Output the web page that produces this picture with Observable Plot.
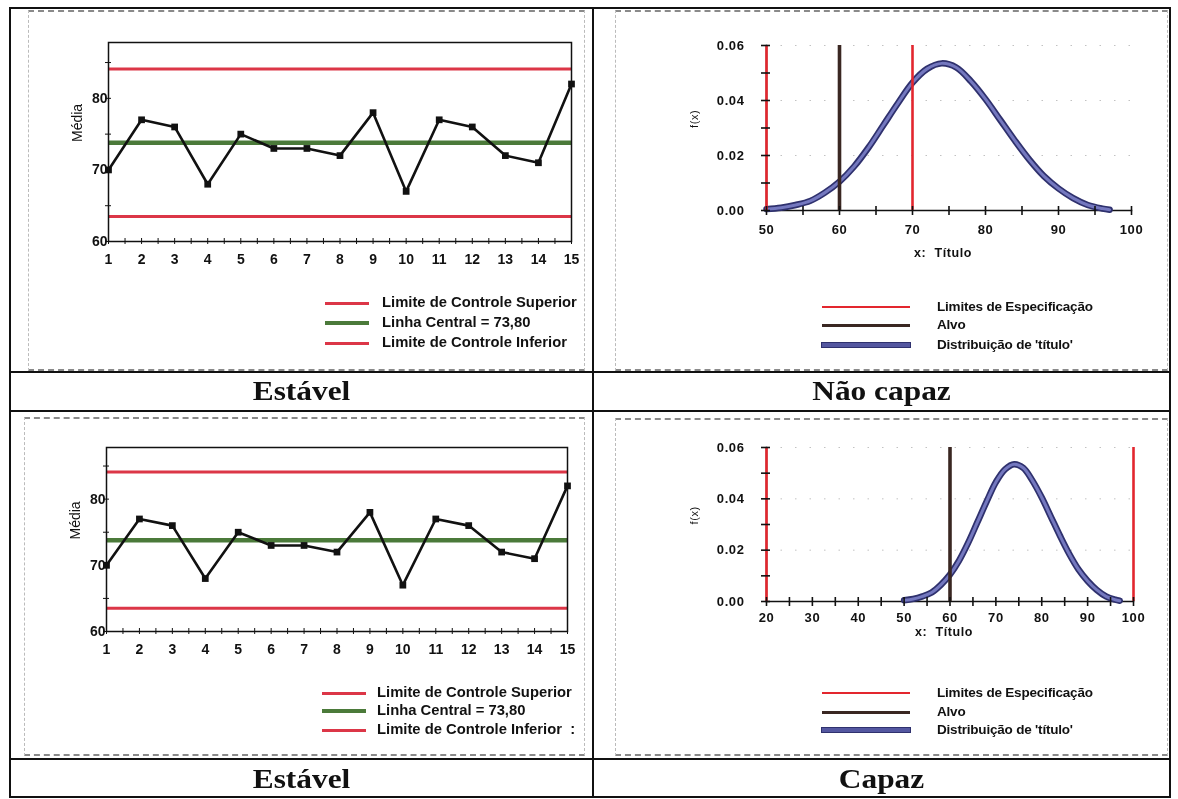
<!DOCTYPE html>
<html>
<head>
<meta charset="utf-8">
<script src="https://cdn.jsdelivr.net/npm/d3@7"></script>
<script src="https://cdn.jsdelivr.net/npm/@observablehq/plot@0.6"></script>
<style>
  html, body { margin: 0; padding: 0; background: #fff; }
  #page { position: relative; width: 1178px; height: 799px; overflow: hidden; background: #fff;
          font-family: "Liberation Sans", Arial, sans-serif; color: #111; filter: blur(0.35px); }
  .rule { position: absolute; background: #111; }
  .inner { position: absolute; box-sizing: border-box; border-left: 1px dashed #bbb; border-right: 1px dashed #bbb;
           border-top: 2px dashed #8a8a8a; border-bottom: 2px dashed #8a8a8a; }
  .caption { position: absolute; font-family: "Liberation Serif", "Times New Roman", serif; font-weight: bold;
             font-size: 28px; line-height: 30px; text-align: center; transform: scaleX(1.12); color: #111; }
  .legend { position: absolute; }
  .legend .sw { position: absolute; }
  .legend .txt { position: absolute; font-weight: bold; white-space: pre; }
</style>
</head>
<body>
<div id="page"></div>
<script>
// ---- Control chart (X-bar) data ----
const samples = [1, 2, 3, 4, 5, 6, 7, 8, 9, 10, 11, 12, 13, 14, 15];
const means = [70, 77, 76, 68, 75, 73, 73, 72, 78, 67, 77, 76, 72, 71, 82];
const centerLine = 73.8;
const upperLimit = 84.1;
const lowerLimit = 63.5;
const meanDomain = [60, 87.8];
const meanTicks = [60, 70, 80];
const meanMinorTicks = [65, 75, 85];

// ---- Capability: fitted distribution of "título" ----
const densityX = [50, 52, 54, 56, 58, 60, 62, 64, 66, 68, 70, 72, 74, 76, 78, 80, 82, 84, 86, 88, 90, 92, 94, 96, 97];
const densityY = [0.0005, 0.001, 0.002, 0.0035, 0.0065, 0.0105, 0.016, 0.023, 0.031, 0.039, 0.0465, 0.0515, 0.0535, 0.052,
                  0.047, 0.0405, 0.033, 0.0255, 0.0185, 0.0125, 0.008, 0.0045, 0.002, 0.0007, 0.0003];
const densityDomain = [0, 0.06];
const densityTicks = [0, 0.02, 0.04, 0.06];
const densityMinorTicks = [0.01, 0.03, 0.05];
const target = 60;
const specNarrow = [50, 70];
const specWide = [20, 100];
const xTicksNarrow = [50, 60, 70, 80, 90, 100];
const xTicksWide = [20, 30, 40, 50, 60, 70, 80, 90, 100];

// ---- Captions ----
const captions = ["Estável", "Não capaz", "Estável", "Capaz"];

const colors = {
  limit: "#dc3647", center: "#4b7a3a", series: "#111",
  spec: "#e3262e", target: "#3a2722", curveDark: "#2f316e", curveLight: "#7478bf"
};

const page = document.getElementById("page");
function el(cls, css, html) {
  const d = document.createElement("div");
  d.className = cls;
  Object.assign(d.style, css);
  if (html != null) d.textContent = html;
  page.appendChild(d);
  return d;
}
const px = v => v + "px";

// ---- Table grid ----
[[10, 7, 1161, 2], [10, 796, 1161, 2], [10, 371, 1161, 2], [10, 410, 1161, 2], [10, 758, 1161, 2]]
  .forEach(([l, t, w, h]) => el("rule", {left: px(l), top: px(t), width: px(w), height: px(h)}));
[[9, 7, 2, 791], [592, 7, 2, 791], [1169, 7, 2, 791]]
  .forEach(([l, t, w, h]) => el("rule", {left: px(l), top: px(t), width: px(w), height: px(h)}));

// chart-object frames inside each cell
[[28, 10, 557, 361], [24, 417, 561, 339], [615, 10, 553, 361], [615, 418, 553, 338]]
  .forEach(([l, t, w, h]) => el("inner", {left: px(l), top: px(t), width: px(w), height: px(h)}));

// captions
[[10, 376, 583, captions[0]], [594, 376, 575, captions[1]], [10, 764, 583, captions[2]], [594, 764, 575, captions[3]]]
  .forEach(([l, t, w, txt]) => el("caption", {left: px(l), top: px(t), width: px(w)}, txt));

// ---- Control chart ----
function controlChart(box) {
  const pts = samples.map((s, i) => ({sample: s, mean: means[i]}));
  const halfSteps = samples.slice(0, -1).map(s => s + 0.5);
  const svg = Plot.plot({
    width: box.width, height: box.height,
    marginLeft: box.ml, marginRight: box.mr, marginTop: box.mt, marginBottom: box.mb,
    style: {fontFamily: "Liberation Sans, Arial, sans-serif", color: "#111", background: "transparent", overflow: "visible"},
    x: {domain: [samples[0], samples[samples.length - 1]]},
    y: {domain: meanDomain},
    marks: [
      Plot.ruleY([upperLimit, lowerLimit], {stroke: colors.limit, strokeWidth: 3}),
      Plot.ruleY([centerLine], {stroke: colors.center, strokeWidth: 4.5}),
      Plot.line(pts, {x: "sample", y: "mean", stroke: colors.series, strokeWidth: 2.6}),
      Plot.dot(pts, {x: "sample", y: "mean", symbol: "square", r: 3.8, fill: colors.series, stroke: "none"}),
      Plot.frame({stroke: "#111", strokeWidth: 1.5}),
      Plot.axisY([...meanTicks, ...meanMinorTicks], {tickSize: 6, dx: 3, tickFormat: () => "", label: null}),
      Plot.axisY(meanTicks, {tickSize: 0, tickPadding: 1, fontSize: 14, fontWeight: "bold", label: null}),
      Plot.axisX([...samples, ...halfSteps], {tickSize: 6, dy: -3, tickFormat: () => "", label: null}),
      Plot.axisX(samples, {tickSize: 0, tickPadding: 13, fontSize: 14, fontWeight: "bold", label: null}),
      Plot.text(["Média"], {frameAnchor: "left", dx: -31, rotate: -90, fontSize: 14})
    ]
  });
  Object.assign(svg.style, {position: "absolute", left: px(box.left), top: px(box.top)});
  page.appendChild(svg);
}

// ---- Capability chart ----
function capabilityChart(box, specLimits, xDomain, xTicks) {
  const curve = densityX.map((x, i) => ({x, y: densityY[i]}));
  const xMinor = xTicks.slice(0, -1).map(t => t + 5);
  const svg = Plot.plot({
    width: box.width, height: box.height,
    marginLeft: box.ml, marginRight: box.mr, marginTop: box.mt, marginBottom: box.mb,
    style: {fontFamily: "Liberation Sans, Arial, sans-serif", color: "#111", background: "transparent",
            overflow: "visible", letterSpacing: "0.6px"},
    x: {domain: xDomain},
    y: {domain: densityDomain},
    marks: [
      Plot.gridY(densityTicks.slice(1), {stroke: "#777", strokeOpacity: 0.45, strokeDasharray: "1.5,13"}),
      Plot.frame({anchor: "left", stroke: "#111", strokeWidth: 1.5}),
      Plot.frame({anchor: "bottom", stroke: "#111", strokeWidth: 1.5}),
      Plot.line(curve, {x: "x", y: "y", curve: "catmull-rom", stroke: colors.curveDark, strokeWidth: 6.5}),
      Plot.line(curve, {x: "x", y: "y", curve: "catmull-rom", stroke: colors.curveLight, strokeWidth: 3}),
      Plot.ruleX(specLimits, {stroke: colors.spec, strokeWidth: 2.6}),
      Plot.ruleX([target], {stroke: colors.target, strokeWidth: 3.6}),
      Plot.axisY([...densityTicks, ...densityMinorTicks], {tickSize: 9, dx: 4, strokeWidth: 1.6, tickFormat: () => "", label: null}),
      Plot.axisY(densityTicks, {tickSize: 0, tickPadding: 22, fontSize: 13, fontWeight: "bold", tickFormat: d3.format(".2f"), label: null}),
      Plot.axisX([...xTicks, ...xMinor], {tickSize: 9, dy: -4, strokeWidth: 1.6, tickFormat: () => "", label: null}),
      Plot.axisX(xTicks, {tickSize: 0, tickPadding: box.tickPad, fontSize: 13, fontWeight: "bold", label: null}),
      Plot.text(["f(x)"], {frameAnchor: "left", dx: -72, rotate: -90, fontSize: 11}),
      Plot.text(["x:  Título"], {frameAnchor: "bottom", dy: box.titleDy, dx: -6, fontSize: 12.5, fontWeight: "bold"})
    ]
  });
  Object.assign(svg.style, {position: "absolute", left: px(box.left), top: px(box.top)});
  page.appendChild(svg);
}

// ---- Legends ----
function legend(box, rows) {
  const lg = el("legend", {left: px(box.left), top: px(box.top), width: px(box.width), height: px(box.height)});
  rows.forEach((r, i) => {
    const cy = box.rowY[i] - box.top;
    const sw = document.createElement("div");
    sw.className = "sw";
    Object.assign(sw.style, {left: px(box.swLeft - box.left), width: px(box.swWidth),
      top: px(cy - r.w / 2), height: px(r.w), background: r.color,
      boxShadow: r.edge ? `0 0 0 1px ${r.edge}` : "none"});
    lg.appendChild(sw);
    const tx = document.createElement("div");
    tx.className = "txt";
    tx.textContent = r.label;
    Object.assign(tx.style, {left: px(box.textLeft - box.left), top: px(cy - box.font * 0.62),
      fontSize: px(box.font), lineHeight: px(box.font * 1.2), letterSpacing: px(box.spacing || 0)});
    lg.appendChild(tx);
  });
}

const centerLabel = "Linha Central = " + centerLine.toFixed(2).replace(".", ",");

controlChart({left: 30, top: 15, width: 555, height: 275, ml: 78, mr: 14, mt: 27, mb: 49});
controlChart({left: 30, top: 420, width: 555, height: 260, ml: 76, mr: 18, mt: 27, mb: 49});

capabilityChart({left: 610, top: 15, width: 560, height: 260, ml: 156, mr: 39, mt: 30, mb: 65, tickPad: 14, titleDy: 46},
  specNarrow, [50, 100], xTicksNarrow);
capabilityChart({left: 610, top: 417, width: 560, height: 250, ml: 156, mr: 37, mt: 30, mb: 66, tickPad: 11, titleDy: 34},
  specWide, [20, 100], xTicksWide);

const controlRows = [
  {color: colors.limit, w: 3},
  {color: colors.center, w: 4.5},
  {color: colors.limit, w: 3}
];
legend({left: 300, top: 285, width: 284, height: 70, rowY: [303, 323, 343], swLeft: 325, swWidth: 44, textLeft: 382, font: 14.8},
  controlRows.map((r, i) => ({...r, label: ["Limite de Controle Superior", centerLabel, "Limite de Controle Inferior"][i]})));
legend({left: 300, top: 675, width: 284, height: 70, rowY: [693, 711, 730], swLeft: 322, swWidth: 44, textLeft: 377, font: 14.8},
  controlRows.map((r, i) => ({...r, label: ["Limite de Controle Superior", centerLabel, "Limite de Controle Inferior  :"][i]})));

const capRows = [
  {color: colors.spec, w: 1.6, label: "Limites de Especificação"},
  {color: colors.target, w: 3, label: "Alvo"},
  {color: "#5457a0", w: 4, edge: colors.curveDark, label: "Distribuição de 'título'"}
];
legend({left: 800, top: 290, width: 360, height: 70, rowY: [307, 325, 345], swLeft: 822, swWidth: 88, textLeft: 937, font: 13.5, spacing: -0.2}, capRows);
legend({left: 800, top: 676, width: 360, height: 70, rowY: [693, 712, 730], swLeft: 822, swWidth: 88, textLeft: 937, font: 13.5, spacing: -0.2}, capRows);
</script>
</body>
</html>
